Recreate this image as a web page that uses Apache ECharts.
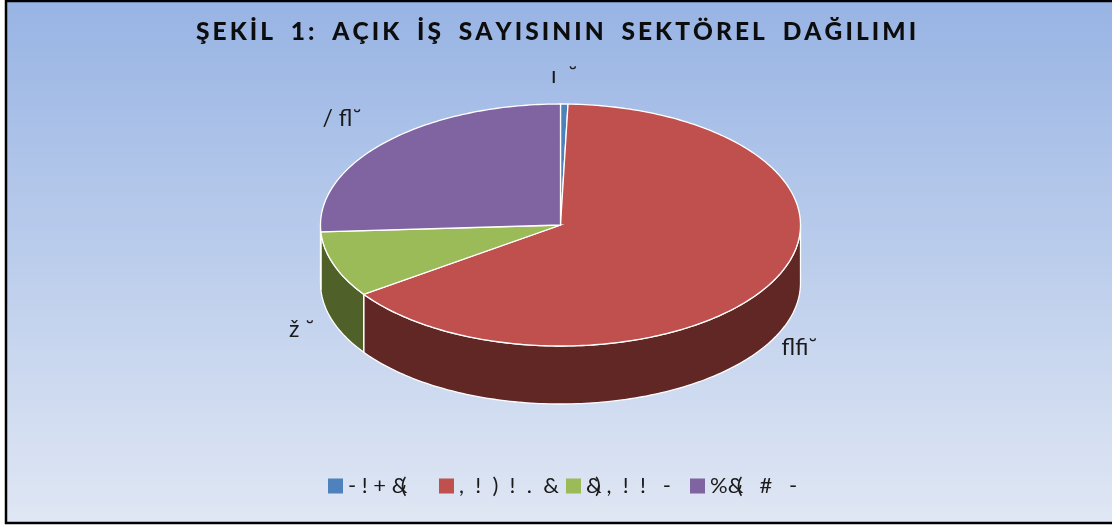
<!DOCTYPE html>
<html>
<head>
<meta charset="utf-8">
<style>html,body{margin:0;padding:0;background:#fff}#main{width:1112px;height:525px}</style>
<script src="https://cdn.jsdelivr.net/npm/echarts@6/dist/echarts.min.js"></script>
</head>
<body>
<div id="main"></div>
<script>
var titleText = 'ŞEKİL 1: AÇIK İŞ SAYISININ SEKTÖREL DAĞILIMI';
var categories = ['- ! + &(', ',  !  )  !  .  &', '&) ,  !  !   -', '%&(   #   -'];
var sliceLabels = ['ı  ˘', 'flfi˘', 'ž ˘', '/ fl˘'];
var shares = [0.5, 64.8, 8.8, 25.9];

var topColors = ['#4F81BD', '#C0504D', '#9BBB59', '#8064A2'];
var sideColors = ['#2A4565', '#612725', '#4F6028', '#403152'];
var legendLefts = [322, 433, 560, 684];
// label anchors, relative to the slice's mid point on the rim
var labelShift = [[0, -28], [28, 65], [-32, 65], [-44, -23]];

var cx = 560.5, cy = 225, rx = 240, ry = 121, depth = 58;

function rim(angle, dy) {
    var a = angle / 180 * Math.PI;
    return [cx + rx * Math.sin(a), cy - ry * Math.cos(a) + (dy || 0)];
}

function sidePoints(a0, a1) {
    var from = Math.max(a0, 90), to = Math.min(a1, 270);
    if (to <= from) return null;
    var pts = [], a;
    for (a = from; a < to; a += 1) pts.push(rim(a));
    pts.push(rim(to));
    for (a = to; a > from; a -= 1) pts.push(rim(a, depth));
    pts.push(rim(from, depth));
    return pts;
}

function topPoints(a0, a1) {
    var pts = [[cx, cy]], a;
    for (a = a0; a < a1; a += 1) pts.push(rim(a));
    pts.push(rim(a1));
    return pts;
}

function sideItem(params, api) {
    var a0 = api.value(0) * 3.6, a1 = a0 + api.value(1) * 3.6;
    var pts = sidePoints(a0, a1);
    if (!pts) return null;
    return {
        type: 'polygon',
        shape: { points: pts },
        style: { fill: sideColors[params.seriesIndex], stroke: '#fff', lineWidth: 1.3 }
    };
}

function topItem(params, api) {
    var i = params.seriesIndex - categories.length;
    var a0 = api.value(0) * 3.6, a1 = a0 + api.value(1) * 3.6;
    var mid = rim((a0 + a1) / 2);
    return {
        type: 'group',
        children: [{
            type: 'polygon',
            shape: { points: topPoints(a0, a1) },
            style: { fill: topColors[i], stroke: '#fff', lineWidth: 1.3 }
        }, {
            type: 'text',
            x: mid[0] + labelShift[i][0],
            y: mid[1] + labelShift[i][1],
            style: {
                text: sliceLabels[i],
                fill: '#1a1a1a',
                font: '23px Lato',
                textAlign: 'center',
                textVerticalAlign: 'middle'
            }
        }]
    };
}

var series = [];
var running = 0;
var sideSeries = [], topSeries = [];
shares.forEach(function (v, i) {
    sideSeries.push({
        type: 'custom',
        name: 'side' + i,
        coordinateSystem: 'none',
        renderItem: sideItem,
        silent: true,
        z: 2,
        data: [[running, v]]
    });
    topSeries.push({
        type: 'custom',
        name: categories[i],
        coordinateSystem: 'none',
        renderItem: topItem,
        silent: true,
        z: 3,
        itemStyle: { color: topColors[i] },
        data: [[running, v]]
    });
    running += v;
});
series = sideSeries.concat(topSeries);

var option = {
    animation: false,
    title: {
        text: titleText.split('').join('\u2009').replace(/ /g, '  '),
        left: 'center',
        top: 15,
        textStyle: { fontFamily: 'Lato', fontWeight: 900, fontSize: 24.5, color: '#0d0d0d' }
    },
    legend: categories.map(function (name, i) {
        return {
            data: [name],
            left: legendLefts[i],
            top: 472,
            icon: 'rect',
            itemWidth: 15,
            itemHeight: 15,
            itemGap: 0,
            padding: [3, 6],
            selectedMode: false,
            formatter: function (n) { return n.replace(/&/g, '{o|&}'); },
            textStyle: {
                fontFamily: 'Lato',
                fontSize: 22,
                color: '#1a1a1a',
                rich: { o: { width: 9, fontFamily: 'Lato', fontSize: 22, color: '#1a1a1a' } }
            }
        };
    }),
    graphic: [{
        type: 'rect',
        z: -10,
        silent: true,
        shape: { x: 6, y: 1, width: 1112, height: 522 },
        style: {
            fill: new echarts.graphic.LinearGradient(0, 0, 0, 1, [
                { offset: 0, color: '#98B4E4' },
                { offset: 1, color: '#E0E7F4' }
            ]),
            stroke: '#000',
            lineWidth: 2.5
        }
    }],
    series: series
};

var chart = echarts.init(document.getElementById('main'));
chart.setOption(option);
</script>
</body>
</html>
